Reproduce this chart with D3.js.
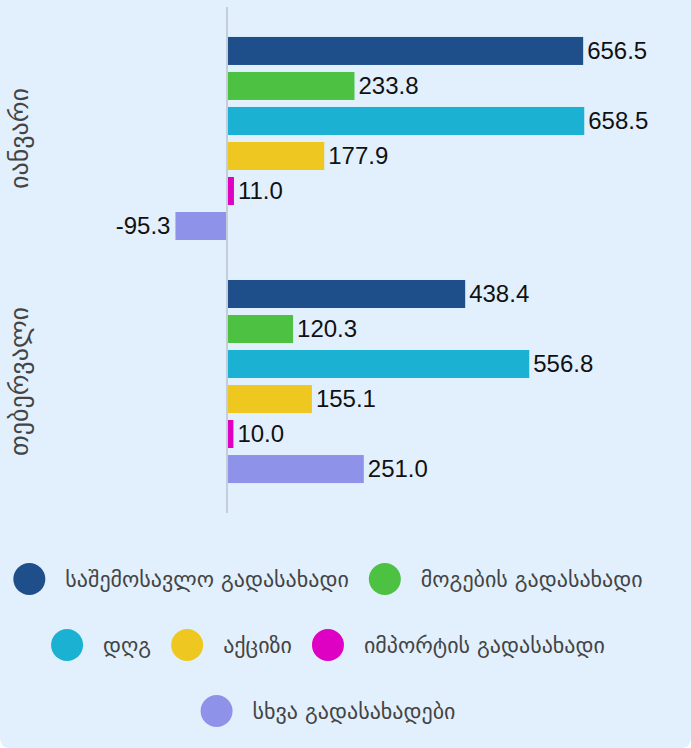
<!DOCTYPE html>
<html>
<head>
<meta charset="utf-8">
<script src="https://cdn.jsdelivr.net/npm/d3@7"></script>
<style>
  html, body { margin: 0; padding: 0; background: #fff; }
  svg { display: block; }
  .group-label { font-family: "DejaVu Sans", sans-serif; font-size: 26px; fill: #444; }
  .value { font-family: "Liberation Sans", Arial, sans-serif; font-size: 24px; fill: #111; }
  .legend text { font-family: "DejaVu Sans", sans-serif; font-size: 22px; fill: #444; }
</style>
</head>
<body>
<div id="chart"></div>
<script>
// Data
var months = ["იანვარი", "თებერვალი"];
var series = [
  "საშემოსავლო გადასახადი",
  "მოგების გადასახადი",
  "დღგ",
  "აქციზი",
  "იმპორტის გადასახადი",
  "სხვა გადასახადები"
];
var colors = ["#1f4f8b", "#4cc142", "#1ab1d2", "#eec820", "#de00c3", "#8f92e9"];
var january = [656.5, 233.8, 658.5, 177.9, 11.0, -95.3];
var february = [438.4, 120.3, 556.8, 155.1, 10.0, 251.0];

var valuesByMonth = [january, february];

var width = 691;
var height = 748;

var svg = d3.select("#chart")
  .append("svg")
  .attr("width", width)
  .attr("height", height);

// background with rounded bottom corners
svg.append("path")
  .attr("fill", "#e2f0fd")
  .attr("d", "M0,0H" + width + "V" + (height - 10) + "Q" + width + "," + height + " " + (width - 10) + "," + height +
    "H10Q0," + height + " 0," + (height - 10) + "Z");

// Scales
var xScale = d3.scaleLinear().domain([-100, 700]).range([172.9, 605.7]);

var yGroup = d3.scaleBand()
  .domain(months)
  .range([7, 513])
  .paddingInner(0)
  .paddingOuter(0.041);

var yInner = d3.scaleBand()
  .domain(series)
  .range([0, yGroup.bandwidth()])
  .paddingInner(0.2)
  .paddingOuter(0.571);

var fmt = v => d3.format(".1f")(v).replace("−", "-");

var chart = svg.append("g");

// Bars
var groups = chart.selectAll("g.month")
  .data(months)
  .enter()
  .append("g")
  .attr("class", "month")
  .attr("transform", d => "translate(0," + yGroup(d) + ")");

groups.each(function(month, mi) {
  var g = d3.select(this);
  var rows = series.map((s, i) => ({ name: s, value: valuesByMonth[mi][i], color: colors[i] }));

  g.selectAll("rect")
    .data(rows)
    .enter()
    .append("rect")
    .attr("x", d => d.value >= 0 ? xScale(0) + 1 : xScale(d.value))
    .attr("width", d => d.value >= 0 ? xScale(d.value) - xScale(0) : xScale(0) - 1 - xScale(d.value))
    .attr("y", d => yInner(d.name))
    .attr("height", yInner.bandwidth())
    .attr("fill", d => d.color);

  g.selectAll("text.value")
    .data(rows)
    .enter()
    .append("text")
    .attr("class", "value")
    .attr("x", d => d.value >= 0 ? xScale(d.value) + 5 : xScale(d.value) - 5)
    .attr("y", d => yInner(d.name) + yInner.bandwidth() / 2)
    .attr("dy", "0.35em")
    .attr("text-anchor", d => d.value >= 0 ? "start" : "end")
    .text(d => fmt(d.value));
});

// Zero line
chart.append("line")
  .attr("x1", xScale(0))
  .attr("x2", xScale(0))
  .attr("y1", 7)
  .attr("y2", 513)
  .attr("stroke", "#c3ceda")
  .attr("stroke-width", 2);

// Group labels (rotated)
chart.selectAll("text.group-label")
  .data(months)
  .enter()
  .append("text")
  .attr("class", "group-label")
  .attr("text-anchor", "middle")
  .attr("transform", d => "translate(19," + (yGroup(d) + yGroup.bandwidth() / 2) + ") rotate(-90)")
  .attr("dy", "0.35em")
  .text(d => d);

// Legend, wrapped into centered rows
var legend = svg.append("g").attr("class", "legend");
var r = 16, textGap = 20, itemGap = 20, maxRow = 660, legendCenter = 328;
var rowY = [579, 645, 711];

var items = series.map((s, i) => {
  var g = legend.append("g");
  g.append("circle").attr("r", r).attr("cx", r).attr("fill", colors[i]);
  var t = g.append("text")
    .attr("x", 2 * r + textGap)
    .attr("dy", "0.35em")
    .text(s);
  return { g: g, w: 2 * r + textGap + t.node().getComputedTextLength() };
});

var rows = [[]], rowW = [0];
items.forEach(it => {
  var cur = rows.length - 1;
  var add = rows[cur].length ? itemGap + it.w : it.w;
  if (rows[cur].length && rowW[cur] + add > maxRow) {
    rows.push([it]);
    rowW.push(it.w);
  } else {
    rows[cur].push(it);
    rowW[cur] += add;
  }
});

rows.forEach((row, ri) => {
  var x = legendCenter - rowW[ri] / 2;
  row.forEach(it => {
    it.g.attr("transform", "translate(" + x + "," + rowY[ri] + ")");
    x += it.w + itemGap;
  });
});
</script>
</body>
</html>
